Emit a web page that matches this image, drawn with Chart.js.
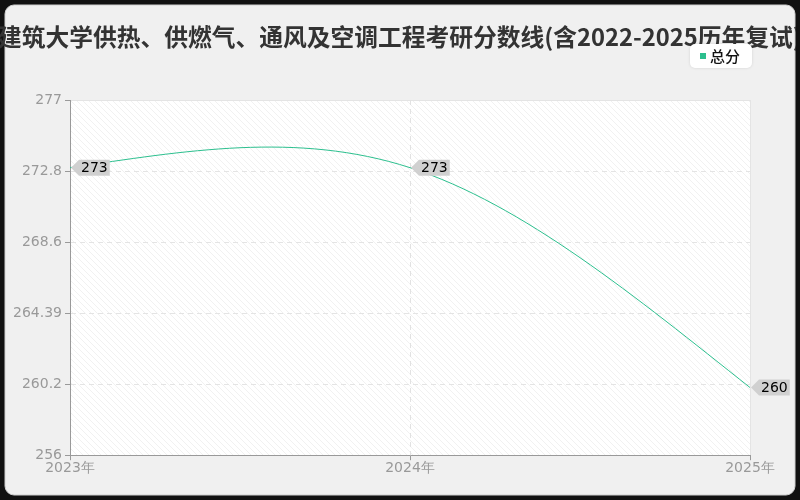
<!DOCTYPE html>
<html>
<head>
<meta charset="utf-8">
<script src="https://cdn.jsdelivr.net/npm/chart.js@4/dist/chart.umd.min.js"></script>
<style>
  html, body { margin: 0; padding: 0; background: #111; }
  #wrap { position: relative; width: 800px; height: 500px; }
</style>
</head>
<body>
<div id="wrap"><canvas id="scoreChart" width="800" height="500"></canvas></div>
<script>
// dados do gráfico
const years = ['2023年', '2024年', '2025年'];
const totalScores = [273, 273, 260];
const yTickValues = [256, 260.2, 264.4, 268.6, 272.8, 277];
const yTickLabels = ['256', '260.2', '264.39', '268.6', '272.8', '277'];
const seriesName = '总分';
const chartTitle = '建筑大学供热、供燃气、通风及空调工程考研分数线(含2022-2025历年复试)';

const lineColor = '#2cbf8e';

// fundo do painel + área hachurada
const panelPlugin = {
    id: 'panel',
    beforeDraw(chart) {
        const ctx = chart.ctx;
        const area = chart.chartArea;
        ctx.save();
        ctx.fillStyle = '#111';
        ctx.fillRect(0, 0, chart.width, chart.height);
        ctx.beginPath();
        ctx.roundRect(5, 5, 790, 490, 9);
        ctx.fillStyle = '#f0f0f0';
        ctx.fill();
        ctx.strokeStyle = '#cfcfcf';
        ctx.lineWidth = 1;
        ctx.stroke();

        // hachura diagonal
        const pc = document.createElement('canvas');
        pc.width = 6; pc.height = 6;
        const p = pc.getContext('2d');
        p.fillStyle = '#ffffff';
        p.fillRect(0, 0, 6, 6);
        p.strokeStyle = '#f1f1f1';
        p.lineWidth = 1;
        p.beginPath();
        p.moveTo(0, 0); p.lineTo(6, 6);
        p.moveTo(-3, 3); p.lineTo(3, 9);
        p.moveTo(3, -3); p.lineTo(9, 3);
        p.stroke();
        ctx.fillStyle = ctx.createPattern(pc, 'repeat');
        ctx.fillRect(area.left, area.top, area.right - area.left, area.bottom - area.top);
        ctx.strokeStyle = '#e4e4e4';
        ctx.beginPath();
        ctx.moveTo(area.right + 0.5, area.top);
        ctx.lineTo(area.right + 0.5, area.bottom);
        ctx.moveTo(area.left, area.top + 0.5);
        ctx.lineTo(area.right, area.top + 0.5);
        ctx.stroke();
        ctx.restore();
    },
    afterDraw(chart) {
        const ctx = chart.ctx;
        ctx.save();
        // título (cortado nas bordas como no original)
        ctx.beginPath();
        ctx.rect(0, 0, 796, 500);
        ctx.clip();
        ctx.font = 'bold 23.75px "Noto Sans CJK SC"';
        ctx.fillStyle = '#333';
        ctx.textAlign = 'left';
        ctx.textBaseline = 'middle';
        ctx.fillText(chartTitle, -2, 37);
        ctx.restore();

        // legenda
        ctx.save();
        ctx.beginPath();
        ctx.roundRect(690, 44, 62, 24, 5);
        ctx.fillStyle = '#ffffff';
        ctx.shadowColor = 'rgba(0,0,0,0.12)';
        ctx.shadowBlur = 3;
        ctx.fill();
        ctx.shadowBlur = 0;
        ctx.fillStyle = lineColor;
        ctx.fillRect(700, 53, 6, 6);
        ctx.font = '500 15px "Noto Sans CJK SC"';
        ctx.fillStyle = '#111';
        ctx.textBaseline = 'middle';
        ctx.fillText(chart.data.datasets[0].label, 710, 56);
        ctx.restore();
    }
};

// curva suave: tangente central nos pontos internos, extrapolada nas pontas
const smoothPlugin = {
    id: 'smooth',
    beforeDatasetsDraw(chart) {
        const meta = chart.getDatasetMeta(0);
        meta.dataset.updateControlPoints(chart.chartArea, meta.iAxis);
        const pts = meta.data;
        const n = pts.length;
        if (n < 3) return;
        const sec = [];
        for (let i = 0; i < n - 1; i++) {
            sec.push((pts[i + 1].y - pts[i].y) / (pts[i + 1].x - pts[i].x));
        }
        const m = [];
        for (let i = 1; i < n - 1; i++) {
            m[i] = (pts[i + 1].y - pts[i - 1].y) / (pts[i + 1].x - pts[i - 1].x);
        }
        m[0] = sec[0] + 0.45 * (sec[0] - m[1]);
        m[n - 1] = sec[n - 2] + 0.45 * (sec[n - 2] - m[n - 2]);
        for (let i = 0; i < n; i++) {
            const pt = pts[i];
            if (i > 0) {
                const h = (pt.x - pts[i - 1].x) / 3;
                pt.cp1x = pt.x - h;
                pt.cp1y = pt.y - m[i] * h;
            }
            if (i < n - 1) {
                const h = (pts[i + 1].x - pt.x) / 3;
                pt.cp2x = pt.x + h;
                pt.cp2y = pt.y + m[i] * h;
            }
        }
    }
};

// etiquetas com os valores ao lado dos pontos
const tagPlugin = {
    id: 'tags',
    afterDatasetsDraw(chart) {
        const ctx = chart.ctx;
        const meta = chart.getDatasetMeta(0);
        ctx.save();
        ctx.font = '14px "DejaVu Sans"';
        ctx.textBaseline = 'middle';
        meta.data.forEach((pt, i) => {
            const x = pt.x, y = pt.y;
            const txt = String(chart.data.datasets[0].data[i]);
            const w = ctx.measureText(txt).width;
            ctx.beginPath();
            ctx.moveTo(x + 1, y);
            ctx.lineTo(x + 9, y - 8);
            ctx.lineTo(x + 13 + w, y - 8);
            ctx.lineTo(x + 13 + w, y + 8);
            ctx.lineTo(x + 9, y + 8);
            ctx.closePath();
            ctx.fillStyle = '#d0d0d0';
            ctx.fill();
            ctx.fillStyle = '#000';
            ctx.fillText(txt, x + 11, y + 1);
        });
        ctx.restore();
    }
};

const ctx = document.getElementById('scoreChart').getContext('2d');
new Chart(ctx, {
    type: 'line',
    data: {
        labels: years,
        datasets: [{
            label: seriesName,
            data: totalScores,
            borderColor: lineColor,
            borderWidth: 1,
            pointRadius: 0,
            tension: 0.4,
            fill: false
        }]
    },
    options: {
        responsive: false,
        animation: false,
        layout: { padding: { top: 100, right: 50, bottom: 23, left: 0 } },
        plugins: {
            legend: { display: false },
            title: { display: false },
            tooltip: { enabled: false }
        },
        scales: {
            x: {
                offset: false,
                grid: {
                    color: c => (c.index === 1 ? '#e2e2e2' : 'rgba(0,0,0,0)'),
                    tickColor: '#999',
                    tickLength: 5
                },
                border: { color: '#999', dash: [5, 4] },
                ticks: {
                    color: '#999',
                    font: { family: 'DejaVu Sans', size: 14 },
                    maxRotation: 0,
                    padding: 0
                }
            },
            y: {
                min: 256,
                max: 277,
                afterBuildTicks: axis => {
                    axis.ticks = yTickValues.map(v => ({ value: v }));
                },
                afterFit: axis => { axis.width = 70; },
                grid: {
                    color: c => (c.index === 0 ? 'rgba(0,0,0,0)' : '#e4e4e4'),
                    tickColor: '#999',
                    tickLength: 5
                },
                border: { color: '#999', dash: [5, 4] },
                ticks: {
                    color: '#999',
                    font: { family: 'DejaVu Sans', size: 14 },
                    padding: 3,
                    callback: (v, i) => yTickLabels[i]
                }
            }
        }
    },
    plugins: [panelPlugin, smoothPlugin, tagPlugin]
});
</script>
</body>
</html>
